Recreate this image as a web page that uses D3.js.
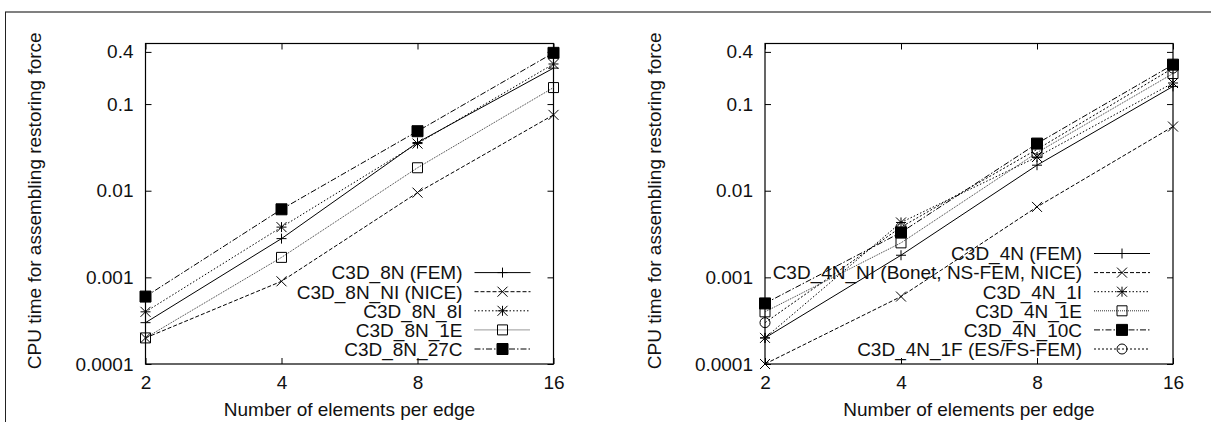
<!DOCTYPE html>
<html>
<head>
<meta charset="utf-8">
<script src="https://cdn.jsdelivr.net/npm/d3@7"></script>
<style>
  html, body { margin: 0; padding: 0; background: #fff; }
  svg { display: block; }
  text { font-family: "Liberation Sans", Arial, Helvetica, sans-serif; fill: #111; }
</style>
</head>
<body>
<svg id="fig" width="1211" height="422"></svg>
<script>
// Mesh refinement (elements per edge) on the x axis
const elementsPerEdge = [2, 4, 8, 16];
const xTickLabels = ["2", "4", "8", "16"];

// y axis ticks (CPU seconds)
const yTickValues = [0.0001, 0.001, 0.01, 0.1, 0.4];
const yTickLabels = ["0.0001", "0.001", "0.01", "0.1", "0.4"];

// Hexahedral (8-node) element variants
const hexNames = ["C3D_8N (FEM)", "C3D_8N_NI (NICE)", "C3D_8N_8I", "C3D_8N_1E", "C3D_8N_27C"];
const hexFem  = [0.0003, 0.0028, 0.036, 0.26];
const hexNi   = [0.0002, 0.0009, 0.0095, 0.075];
const hex8i   = [0.0004, 0.0038, 0.035, 0.29];
const hex1e   = [0.0002, 0.0017, 0.0184, 0.155];
const hex27c  = [0.0006, 0.0061, 0.0486, 0.39];

// Tetrahedral (4-node) element variants
const tetNames = ["C3D_4N (FEM)", "C3D_4N_NI (Bonet, NS-FEM, NICE)", "C3D_4N_1I", "C3D_4N_1E", "C3D_4N_10C", "C3D_4N_1F (ES/FS-FEM)"];
const tetFem  = [0.0002, 0.0018, 0.0197, 0.16];
const tetNi   = [0.0001, 0.0006, 0.0065, 0.055];
const tet1i   = [0.0002, 0.0043, 0.0245, 0.175];
const tet1e   = [0.0004, 0.0025, 0.0275, 0.225];
const tet10c  = [0.0005, 0.0033, 0.035, 0.285];
const tet1f   = [0.0003, 0.0038, 0.030, 0.26];

const yTitle = "CPU time for assembling restoring force";
const xTitle = "Number of elements per edge";

const FONT_SIZE = 19;

// line / point styles (monochrome gnuplot look)
const styles = {
  solid:   { dash: null,        color: "#000", marker: "plus" },
  dashed:  { dash: "4,2",       color: "#000", marker: "cross" },
  dotted:  { dash: "1.5,2",     color: "#000", marker: "star" },
  fine:    { dash: "1,1",       color: "#333", marker: "square" },
  dashdot: { dash: "6,2,1.5,2", color: "#000", marker: "filled" },
  dots2:   { dash: "2,2",       color: "#000", marker: "circle" }
};

const svg = d3.select("#fig");

// outer frame: gray top rule and dark left edge
svg.append("line").attr("x1", 5).attr("x2", 1211).attr("y1", 12).attr("y2", 12)
  .attr("stroke", "#808080").attr("stroke-width", 2);
svg.append("line").attr("x1", 5.5).attr("x2", 5.5).attr("y1", 12).attr("y2", 422)
  .attr("stroke", "#222").attr("stroke-width", 1);

function markerPath(type, cx, cy) {
  const h = 5;
  switch (type) {
    case "plus":  return `M${cx - h},${cy}H${cx + h}M${cx},${cy - h}V${cy + h}`;
    case "cross": return `M${cx - h},${cy - h}L${cx + h},${cy + h}M${cx - h},${cy + h}L${cx + h},${cy - h}`;
    case "star":  return `M${cx - h},${cy}H${cx + h}M${cx},${cy - h}V${cy + h}` +
                         `M${cx - h},${cy - h}L${cx + h},${cy + h}M${cx - h},${cy + h}L${cx + h},${cy - h}`;
    case "square": return `M${cx - 5},${cy - 5}h10v10h-10Z`;
    case "filled": return `M${cx - 5.5},${cy - 5.5}h11v11h-11Z`;
    case "circle": { const p = d3.path(); p.arc(cx, cy, 5, 0, 2 * Math.PI); return p.toString(); }
  }
}

function drawMarker(g, type, cx, cy) {
  g.append("path")
    .attr("d", markerPath(type, cx, cy))
    .attr("fill", type === "filled" ? "#000" : "none")
    .attr("stroke", "#000")
    .attr("stroke-width", 1);
}

function panel(opts) {
  const { left, top, width, height, series, names, styleKeys } = opts;
  const g = svg.append("g");

  const x = d3.scaleLog().base(2).domain([2, 16]).range([left, left + width]);
  const y = d3.scaleLog().domain([0.0001, 0.5]).range([top + height, top]);

  // axes: labelled left/bottom, mirrored ticks on top/right, all ticks inward
  const axL = g.append("g").attr("transform", `translate(${left},0)`)
    .call(d3.axisLeft(y).tickValues(yTickValues).tickFormat((d, i) => yTickLabels[i])
      .tickSizeInner(-6).tickSizeOuter(0).tickPadding(12));
  const axB = g.append("g").attr("transform", `translate(0,${top + height})`)
    .call(d3.axisBottom(x).tickValues(elementsPerEdge).tickFormat((d, i) => xTickLabels[i])
      .tickSizeInner(-6).tickSizeOuter(0).tickPadding(12));
  const axR = g.append("g").attr("transform", `translate(${left + width},0)`)
    .call(d3.axisRight(y).tickValues(yTickValues).tickFormat("").tickSizeInner(-6).tickSizeOuter(0));
  const axT = g.append("g").attr("transform", `translate(0,${top})`)
    .call(d3.axisTop(x).tickValues(elementsPerEdge).tickFormat("").tickSizeInner(-6).tickSizeOuter(0));
  [axL, axB, axR, axT].forEach(a => {
    a.select(".domain").remove();
    a.selectAll("line").attr("stroke", "#000");
    a.selectAll("text").attr("font-size", FONT_SIZE).attr("fill", "#111")
      .attr("font-family", "'Liberation Sans', Arial, sans-serif");
  });

  g.append("rect").attr("x", left).attr("y", top).attr("width", width).attr("height", height)
    .attr("fill", "none").attr("stroke", "#000").attr("stroke-width", 1.2);

  // axis titles
  g.append("text")
    .attr("transform", `translate(${left - 111},${top + height / 2 - 3}) rotate(-90)`)
    .attr("text-anchor", "middle").attr("dominant-baseline", "central")
    .attr("font-size", FONT_SIZE).text(yTitle);
  g.append("text")
    .attr("x", left + width / 2).attr("y", top + height + 52)
    .attr("text-anchor", "middle").attr("font-size", FONT_SIZE).text(xTitle);

  const line = d3.line().x((d, i) => x(elementsPerEdge[i])).y(d => y(d));

  // legend layout, anchored at the plot's lower-right corner
  const n = series.length;
  const rowH = 19.1;
  const lastRow = top + height - 15;
  const textRight = left + width - 91;
  const sx0 = left + width - 79, sx1 = left + width - 23;

  series.forEach((vals, k) => {
    const st = styles[styleKeys[k]];
    g.append("path").datum(vals).attr("d", line)
      .attr("fill", "none").attr("stroke", st.color).attr("stroke-width", 1)
      .attr("stroke-dasharray", st.dash);
    vals.forEach((v, i) => drawMarker(g, st.marker, x(elementsPerEdge[i]), y(v)));

    const ry = lastRow - (n - 1 - k) * rowH;
    g.append("text").attr("x", textRight).attr("y", ry + 6.8)
      .attr("text-anchor", "end").attr("font-size", FONT_SIZE).text(names[k]);
    g.append("line").attr("x1", sx0).attr("x2", sx1).attr("y1", ry).attr("y2", ry)
      .attr("stroke", st.color).attr("stroke-width", 1).attr("stroke-dasharray", st.dash);
    drawMarker(g, st.marker, (sx0 + sx1) / 2, ry);
  });
}

panel({
  left: 145.5, top: 43.5, width: 408, height: 320.5,
  series: [hexFem, hexNi, hex8i, hex1e, hex27c],
  names: hexNames,
  styleKeys: ["solid", "dashed", "dotted", "fine", "dashdot"]
});

panel({
  left: 765, top: 43.5, width: 408, height: 320.5,
  series: [tetFem, tetNi, tet1i, tet1e, tet10c, tet1f],
  names: tetNames,
  styleKeys: ["solid", "dashed", "dotted", "fine", "dashdot", "dots2"]
});
</script>
</body>
</html>
